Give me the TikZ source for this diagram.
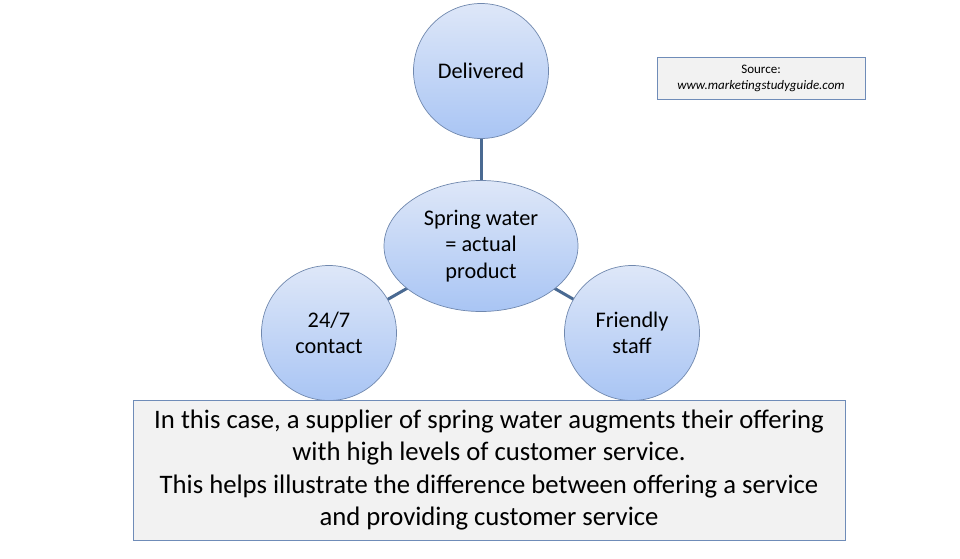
\documentclass[tikz,border=0pt]{standalone}
\usepackage{fontspec}
\setmainfont{Carlito}
\usetikzlibrary{shapes.geometric}
\definecolor{ctop}{HTML}{DEE7F8}
\definecolor{cbot}{HTML}{A9C5F4}
\definecolor{cedge}{HTML}{7088AE}
\definecolor{conn}{HTML}{4A6A92}
\definecolor{boxfill}{HTML}{F2F2F2}
\definecolor{boxedge}{HTML}{6F8CB8}
\begin{document}
\begin{tikzpicture}[x=1pt,y=-1pt,
  bubble/.style={circle, minimum size=135pt, inner sep=0pt, top color=ctop, bottom color=cbot, draw=cedge, line width=0.7pt, align=center, font=\fontsize{22.3}{26.5}\selectfont},
  hub/.style={ellipse, minimum width=194pt, minimum height=131pt, inner sep=0pt, top color=ctop, bottom color=cbot, draw=cedge, line width=0.7pt, align=center, font=\fontsize{22.3}{26.5}\selectfont},
  link/.style={draw=conn, line width=3pt},
  textbox/.style={draw=boxedge, fill=boxfill, line width=0.8pt, align=center, inner sep=0pt}
]
\useasboundingbox (0,0) rectangle (960,558);
\fill[white] (0,0) rectangle (960,558);
\coordinate (cD) at (481,71);
\coordinate (cH) at (481,246);
\coordinate (cL) at (329,333);
\coordinate (cR) at (632,333);
\draw[link] (cD) -- (cH);
\draw[link] (cH) -- (cL);
\draw[link] (cH) -- (cR);
\node[bubble] (del) at (cD) {Delivered};
\node[hub] (hubn) at (cH) {Spring water\\= actual\\product};
\node[bubble] (cont) at (cL) {24/7\\contact};
\node[bubble] (staff) at (cR) {Friendly\\staff};
\node[textbox, minimum width=208pt, minimum height=42pt, font=\fontsize{13}{16}\selectfont] (src) at (761,78) {Source:\\\textit{www.marketingstudyguide.com}};
\node[textbox, minimum width=712pt, minimum height=140pt, font=\fontsize{26.7}{32.5}\selectfont] (note) at (489,470) {In this case, a supplier of spring water augments their offering\\with high levels of customer service.\\This helps illustrate the difference between offering a service\\and providing customer service};
\end{tikzpicture}
\end{document}
